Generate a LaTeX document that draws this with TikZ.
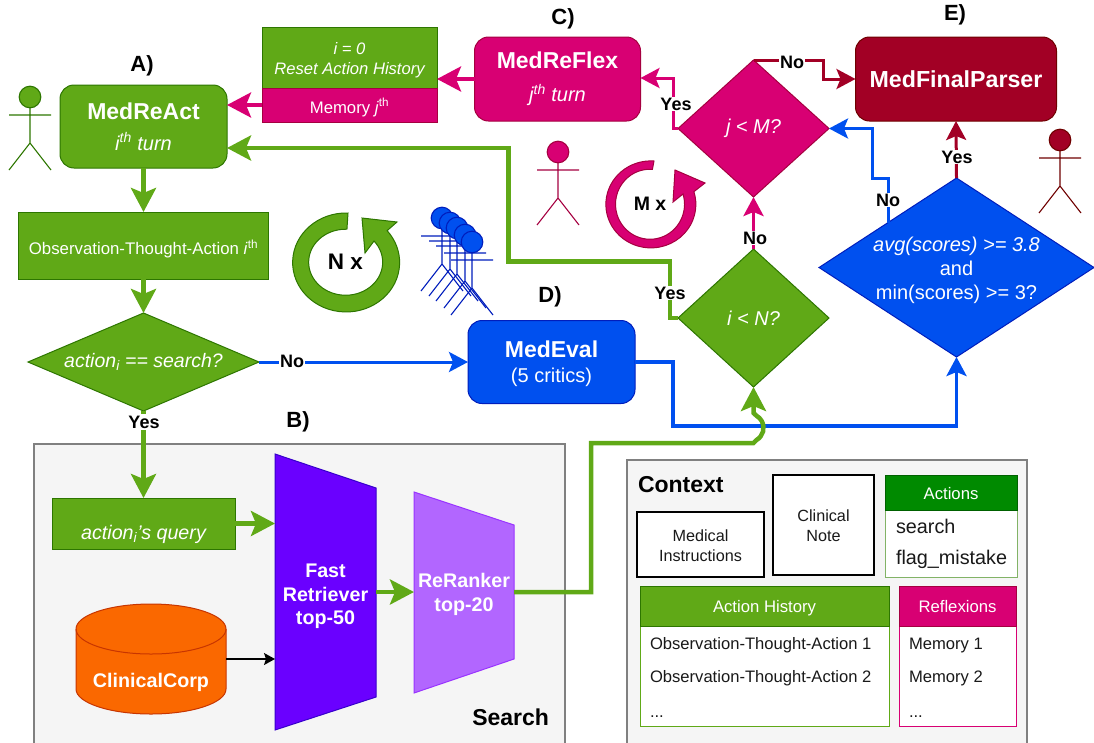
\documentclass[tikz,border=0pt]{standalone}
\usepackage{fontspec}
\setmainfont{Liberation Sans}
\usetikzlibrary{arrows.meta,shapes.geometric,calc}
\definecolor{grn}{HTML}{60A917}\definecolor{grnd}{HTML}{2D7600}
\definecolor{mag}{HTML}{D80073}\definecolor{magd}{HTML}{A50040}
\definecolor{red}{HTML}{A20025}\definecolor{redd}{HTML}{6F0000}
\definecolor{blu}{HTML}{0050EF}\definecolor{blud}{HTML}{001DBC}
\definecolor{org}{HTML}{FA6800}\definecolor{orgd}{HTML}{C73500}
\definecolor{ind}{HTML}{6A00FF}\definecolor{indd}{HTML}{3700CC}
\definecolor{vio}{HTML}{B266FF}\definecolor{viod}{HTML}{9933FF}
\definecolor{dgrn}{HTML}{008A00}\definecolor{lgrn}{HTML}{82B366}
\definecolor{cont}{HTML}{F5F5F5}\definecolor{contd}{HTML}{808080}
\newcommand\fsz[1]{\fontsize{#1}{#1}\selectfont}
\newcommand\dn[2]{\raisebox{-#1}[0pt][0pt]{#2}}
\newcommand\figactor[4]{% x, head y, colour fill, colour line
  \draw[#4,line width=1.1pt,fill=#3] (#1,#2) circle[radius=10.8pt];
  \draw[#4,line width=1.1pt] (#1,#2+11) -- (#1,#2+46) (#1-21,#2+18) -- (#1+21,#2+18)
    (#1-21,#2+73) -- (#1,#2+46) -- (#1+21,#2+73);}
\tikzset{
  x=1pt,y=-1pt,
  every node/.style={inner sep=0pt,outer sep=0pt,align=center},
  rbox/.style={draw,line width=1pt,text=white,rounded corners=14pt},
  dia/.style={diamond,draw,line width=1pt,text=white,font=\fsz{20}\itshape},
  title/.style={font=\fsz{22}\bfseries,text=black},
  flag/.style={font=\fsz{18}\bfseries,text=black,fill=white,inner sep=1pt},
  item/.style={anchor=west,font=\fsz{16.6},text=black!90},
  plain/.style={draw=black,fill=white,line width=1.3pt,font=\fsz{16.2},text=black!90},
  head/.style={draw,line width=1pt,text=white,font=\fsz{16.7}},
  panel/.style={draw=contd,fill=cont,line width=1.2pt},
  flow/.style={line width=#1,-{Stealth[length=24pt,width=25pt,inset=5pt]}},
  thin flow/.style={line width=#1,-{Stealth[length=19pt,width=20pt,inset=4pt]}},
  trap/.style={line width=1pt},
  nodetxt/.style={font=\fsz{19.7}\bfseries,text=white}
}
\begin{document}
\begin{tikzpicture}
\useasboundingbox (0,0) rectangle (1094,742);
% panels
\draw[panel] (34,444) rectangle (565,745);
\draw[panel] (627,460) rectangle (1027,745);
\node[font=\fsz{23}\bfseries,anchor=east] (searchlbl) at (549,717) {Search};
\node[font=\fsz{23}\bfseries,anchor=west] (ctxlbl) at (638,485) {Context};
% main nodes
\node[rbox,draw=grnd,fill=grn,minimum width=167pt,minimum height=83pt] (react) at (143.5,126.5)
  {{\fsz{23}\bfseries MedReAct}\\[12pt]{\fsz{20}\itshape i\textsuperscript{th} turn}};
\node[draw=grnd,fill=grn,line width=1pt,text=white,minimum width=175pt,minimum height=61pt,font=\fsz{16.6}\itshape] (reset) at (349.5,57.5)
  {\dn{7.5pt}{\begin{tabular}{@{}c@{}}i = 0\\[3pt]Reset Action History\end{tabular}}};
\node[draw=magd,fill=mag,line width=1pt,text=white,minimum width=175pt,minimum height=34pt,font=\fsz{16.7}] (mem) at (349.5,105)
  {\dn{8pt}{Memory \textit{j}\textsuperscript{th}}};
\node[rbox,draw=magd,fill=mag,minimum width=166pt,minimum height=84pt] (reflex) at (557.5,79)
  {{\fsz{23}\bfseries MedReFlex}\\[14pt]{\fsz{20}\itshape j\textsuperscript{th} turn}};
\node[rbox,draw=redd,fill=red,minimum width=201pt,minimum height=84pt,font=\fsz{23.2}\bfseries] (final) at (956,79) {MedFinalParser};
\node[draw=grnd,fill=grn,line width=1pt,text=white,minimum width=250pt,minimum height=67pt,font=\fsz{16.8}] (ota) at (143.5,245.5)
  {\dn{9pt}{Observation-Thought-Action \textit{i}\textsuperscript{th}}};
\node[dia,draw=grnd,fill=grn,minimum width=231pt,minimum height=98pt,font=\fsz{19.5}\itshape] (isearch) at (143.5,362)
  {\makebox[0pt]{action\textsubscript{i} == search?}};
\node[rbox,draw=blud,fill=blu,minimum width=167pt,minimum height=83pt] (eval) at (551.5,362)
  {\dn{4.5pt}{\begin{tabular}{@{}c@{}}{\fsz{23}\bfseries MedEval}\\[7pt]{\fsz{20}(5 critics)}\end{tabular}}};
\node[dia,draw=grnd,fill=grn,minimum width=151pt,minimum height=138pt] (ilt) at (753.5,318) {\makebox[0pt]{i < N?}};
\node[dia,draw=magd,fill=mag,minimum width=151pt,minimum height=137pt] (jlt) at (753.5,128.5) {\makebox[0pt]{j < M?}};
\node[dia,draw=blud,fill=blu,minimum width=275pt,minimum height=179pt,font=\fsz{20}] (scores) at (956.5,267.5)
  {\makebox[0pt]{\dn{9pt}{\begin{tabular}{@{}c@{}}\textit{avg(scores) >= 3.8}\\[3.5pt]and\\[3.5pt]min(scores) >= 3?\end{tabular}}}};
% search internals
\node[draw=grnd,fill=grn,line width=1pt,text=white,minimum width=183pt,minimum height=51pt,font=\fsz{19.7}\itshape] (query) at (143.5,523.5)
  {\dn{16pt}{action\textsubscript{i}'s query}};
\fill[ind,draw=indd,trap] (275,454) -- (376,488) -- (376,697) -- (275,730) -- cycle;
\node[minimum width=101pt,minimum height=209pt,nodetxt] (fast) at (325.5,592)
  {\dn{10pt}{\begin{tabular}{@{}c@{}}Fast\\[3.5pt]Retriever\\[3.5pt]top-50\end{tabular}}};
\fill[vio,draw=viod,trap] (414,492) -- (514,525) -- (514,659) -- (414,693) -- cycle;
\node[minimum width=100pt,minimum height=134pt,nodetxt] (rerank) at (464,592)
  {\dn{8.5pt}{\begin{tabular}{@{}c@{}}ReRanker\\[5pt]top-20\end{tabular}}};
\path[fill=org,draw=orgd,line width=1pt] (76,629) arc[start angle=180,end angle=0,x radius=75pt,y radius=25pt]
  -- (226,689) arc[start angle=0,end angle=-180,x radius=75pt,y radius=25pt] -- cycle;
\draw[orgd,line width=1pt] (76,629) arc[start angle=180,end angle=360,x radius=75pt,y radius=25pt];
\node[minimum width=150pt,minimum height=110pt,nodetxt] (corp) at (151,659) {\dn{28pt}{ClinicalCorp}};
% context internals
\node[plain,minimum width=127pt,minimum height=65pt] (instr) at (700.5,544.5) {\dn{8pt}{\begin{tabular}{@{}c@{}}Medical\\[4pt]Instructions\end{tabular}}};
\node[plain,minimum width=101pt,minimum height=100pt] (note) at (823.5,525) {\dn{7pt}{\begin{tabular}{@{}c@{}}Clinical\\[4pt]Note\end{tabular}}};
\node[draw=lgrn,fill=white,line width=1pt,minimum width=132pt,minimum height=102pt] (actbody) at (951,526) {};
\node[head,draw=dgrn!70!black,fill=dgrn,minimum width=132pt,minimum height=35pt] (acthead) at (951,492.5) {\dn{7pt}{Actions}};
\node[item,font=\fsz{19.8}] (a1) at (896,526) {search};
\node[item,font=\fsz{19.8}] (a2) at (896,559) {flag\_mistake};
\node[draw=grn,fill=white,line width=1pt,minimum width=249pt,minimum height=140pt] (histbody) at (764.5,656) {};
\node[head,draw=grnd,fill=grn,minimum width=249pt,minimum height=40pt] (histhead) at (764.5,606) {\dn{6.5pt}{Action History}};
\node[item] (h1) at (650,645) {Observation-Thought-Action 1};
\node[item] (h2) at (650,678) {Observation-Thought-Action 2};
\node[item] (h3) at (650,717) {...};
\node[draw=mag,fill=white,line width=1pt,minimum width=117pt,minimum height=140pt] (refbody) at (957.5,656) {};
\node[head,draw=magd,fill=mag,minimum width=117pt,minimum height=40pt] (refhead) at (957.5,606) {\dn{6.5pt}{Reflexions}};
\node[item] (r1) at (909,645) {Memory 1};
\node[item] (r2) at (909,678) {Memory 2};
\node[item] (r3) at (909,717) {...};
% titles
\node[title] (ta) at (142,66) {A)};
\node[title] (tb) at (298,422) {B)};
\node[title] (tc) at (563,19) {C)};
\node[title] (td) at (550,297) {D)};
\node[title] (te) at (955,15) {E)};
% actors
\figactor{30}{97}{grn}{grnd}
\figactor{558}{152}{mag}{magd}
\figactor{1060}{140}{red}{redd}
\figactor{442}{218}{blu}{blud}
\figactor{450}{223}{blu}{blud}
\figactor{457}{228}{blu}{blud}
\figactor{465}{235}{blu}{blud}
\figactor{472}{242}{blu}{blud}
% loop arrows
\draw[fill=grn,draw=grnd,line width=1pt,line join=miter]
  (348,213) arc[start angle=88,end angle=400,x radius=53.5pt,y radius=49.5pt]
  -- (397,222) -- (362,218) -- (365,253) -- (374,241)
  arc[start angle=400,end angle=88,x radius=37pt,y radius=33pt] -- cycle;
\node[font=\fsz{22.5}\bfseries] (nx) at (345.5,262) {N x};
\draw[fill=mag,draw=magd,line width=1pt,line join=miter]
  (654,161) arc[start angle=86,end angle=377,x radius=45pt,y radius=43.5pt]
  -- (705,183) -- (675,170) -- (673,202) -- (683,194)
  arc[start angle=377,end angle=86,x radius=34.5pt,y radius=35pt] -- cycle;
\node[font=\fsz{19.5}\bfseries] (mx) at (650,204) {M x};
% connectors
\draw[flow=5pt,grn] (react.south) -- (ota.north);
\draw[flow=5pt,grn] (ota.south) -- (isearch.north);
\draw[flow=4pt,mag] (mem.west) -- (mem.west -| react.east);
\draw[flow=4pt,mag] (reflex.west) -- (reflex.west -| reset.east);
\coordinate (hopL) at (753.5,443);
\draw[thin flow=3.5pt,blu] (eval.east) -- (673,362) -- (673,426) -- (956.5,426) -- (scores.south);
\draw[flow=4.5pt,grn] (rerank.east) -- (591,592) -- (591,443) -- (hopL) -- ++(3,-3)
  arc[start angle=-60,end angle=60,radius=14pt] -- (753.5,413) -- (ilt.south);
\draw[flow=4.5pt,grn] (ilt.west) -- (670,318) -- (670,261.5) -- (508.5,261.5) -- (508.5,148) -- (react.east |- 0,148);
\draw[thin flow=3pt,blu] (isearch.east) -- (eval.west);
\node[flag] (lno1) at (292,361) {No};
\draw[flow=4.5pt,grn] (isearch.south) -- (query.north);
\node[flag,inner sep=2pt] (lyes1) at (144,422) {Yes};
\draw[flow=4.5pt,grn] (query.east) -- (query.east -| fast.west);
\draw[flow=4.5pt,grn] (fast.east) -- (rerank.west);
\draw[line width=1.3pt,black,-{Stealth[length=11pt,width=12pt,inset=2pt]}] (corp.east) -- (corp.east -| fast.west);
\draw[thin flow=3.5pt,mag] (ilt.north) -- (jlt.south);
\node[flag] (lno2) at (755,238) {No};
\draw[thin flow=3pt,mag] (jlt.west) -- (673,128.5) -- (673,78) -- (reflex.east |- 0,78);
\node[flag] (lyes2) at (676,104) {Yes};
\draw[thin flow=3pt,red] (jlt.north) -- (823,60) -- (823,79) -- (final.west);
\node[flag] (lno3) at (792,62) {No};
\draw[thin flow=3pt,blu] (888,223) -- (888,178) -- (872,178) -- (872,128.5) -- (jlt.east);
\node[flag] (lno4) at (888,200) {No};
\draw[thin flow=3pt,red] (scores.north) -- (final.south);
\node[flag] (lyes3) at (957,157) {Yes};
\node[flag] (lyes4) at (670,293) {Yes};
\end{tikzpicture}
\end{document}
